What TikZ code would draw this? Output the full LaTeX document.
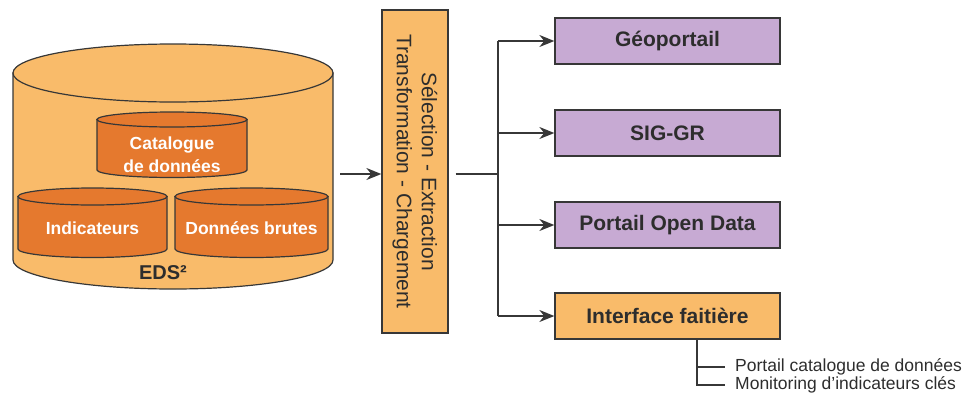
\documentclass[tikz,border=0pt]{standalone}
\usepackage{fontspec}
\setmainfont{Liberation Sans}
\usetikzlibrary{arrows.meta,positioning}
\definecolor{lightorange}{RGB}{249,187,106}
\definecolor{darkorange}{RGB}{229,121,46}
\definecolor{lilac}{RGB}{199,170,211}
\definecolor{edge}{RGB}{55,55,55}
\definecolor{ink}{RGB}{45,45,45}
% cylinder: centre x, top y, bottom y, x radius, y radius, fill
\newcommand{\dbcyl}[6]{%
  \filldraw[fill=#6, draw=edge, line width=1.2pt] (#1-#4,#2) -- (#1-#4,#3)
    arc[start angle=180, end angle=360, x radius=#4pt, y radius=#5pt] -- (#1+#4,#2) -- cycle;
  \filldraw[fill=#6, draw=edge, line width=1.2pt] (#1,#2) ellipse[x radius=#4pt, y radius=#5pt];
}
\tikzset{
  outbox/.style={draw=edge, line width=1.3pt, fill=lilac, minimum width=225pt, minimum height=46pt,
    inner sep=0pt, font=\fontsize{21}{25}\selectfont\bfseries, text=ink},
  etlbox/.style={draw=edge, line width=1.3pt, fill=lightorange, minimum width=66pt, minimum height=323pt},
  cyltext/.style={text=white, align=center, inner sep=0pt, font=\fontsize{17.5}{23}\selectfont\bfseries},
  sublabel/.style={anchor=west, inner xsep=10pt, inner ysep=1pt, text=ink, font=\fontsize{17.5}{18}\selectfont},
  link/.style={draw=edge, line width=1.4pt},
  arr/.style={link, -{Stealth[length=15pt,width=12pt]}}
}
\begin{document}
\begin{tikzpicture}[x=1pt,y=-1pt]
  \useasboundingbox (0,0) rectangle (971,402);
  % Data store EDS2
  \dbcyl{173}{73}{260}{160}{29}{lightorange}
  \dbcyl{172}{119.5}{170}{75}{7.5}{darkorange}
  \dbcyl{92.5}{196.5}{249}{74.5}{8.5}{darkorange}
  \dbcyl{251.5}{196.5}{249}{76.5}{8.5}{darkorange}
  \node[cyltext] (catalog) at (172,154.5) {Catalogue\\de données};
  \node[cyltext] (indic) at (92.5,228) {Indicateurs};
  \node[cyltext] (raw) at (251.5,228) {Données brutes};
  \node[font=\fontsize{20}{24}\selectfont\bfseries, text=ink] (eds) at (163,273) {EDS²};
  \coordinate (edsout) at (340,174);

  % ETL
  \node[etlbox] (etl) at (415,171.5) {};
  \node[rotate=-90, align=center, text=ink, font=\fontsize{21}{25}\selectfont] (etltext) at (etl.center)
    {Sélection - Extraction\\Transformation - Chargement};
  \draw[arr] (edsout) -- (edsout -| etl.west);

  % Outputs
  \node[outbox] (geo) at (667.5,41) {Géoportail};
  \node[outbox] (sig) at (667.5,133) {SIG-GR};
  \node[outbox] (open) at (667.5,225) {Portail Open Data};
  \node[outbox, fill=lightorange] (iface) at (667.5,316) {Interface faitière};
  \coordinate (split) at (498,174);
  \draw[link] ([xshift=7pt]etl.east |- split) -- (split);
  \draw[link] (split |- geo) -- (split |- iface);
  \foreach \dest in {geo,sig,open,iface}
    \draw[arr] (split |- \dest) -- (\dest.west);

  % Sub-items
  \node[sublabel] (portcat) at (725,367) {Portail catalogue de données};
  \node[sublabel] (monit) at (725,385) {Monitoring d’indicateurs clés};
  \draw[link] (iface.south -| 697,0) |- (monit.west);
  \draw[link] (697,367) -- (portcat.west);
\end{tikzpicture}
\end{document}
